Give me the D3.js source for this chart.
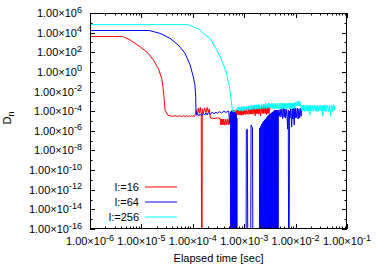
<!DOCTYPE html>
<html>
<head>
<meta charset="utf-8">
<script src="https://cdn.jsdelivr.net/npm/d3@7"></script>
<style>
body { margin: 0; background: #fff; }
text { font-family: "Liberation Sans", Arial, sans-serif; }
</style>
</head>
<body>
<div id="chart"></div>
<script>
// decades shown on the axes
const xTickExps = [-6, -5, -4, -3, -2, -1];
const yTickExps = [6, 4, 2, 0, -2, -4, -6, -8, -10, -12, -14, -16];
const legendLabels = ["l:=16", "l:=64", "l:=256"];

// [elapsed time, D_n] (0 = dropped below the axis)
const red16 = [
  [1e-6, 4096], [4.3e-6, 4096], [6.0e-6, 1780], [9.4e-6, 370], [1.36e-5, 78], [1.71e-5, 16.3],
  [2.13e-5, 2.3], [2.48e-5, 0.22], [2.6e-5, 0.046], [2.75e-5, 0.003], [2.88e-5, 1.3e-4], [3.25e-5, 4.1e-5],
  [3.9e-5, 3.0e-5], [4.5e-5, 3.4e-5], [5e-5, 2.9e-5], [5.5e-5, 3.4e-5], [6e-5, 2.9e-5], [6.5e-5, 3.4e-5],
  [7e-5, 2.9e-5], [7.5e-5, 3.4e-5], [8e-5, 2.9e-5], [8.5e-5, 3.4e-5], [9e-5, 2.9e-5], [9.5e-5, 3.4e-5],
  [1.0e-4, 2.9e-5], [1.05e-4, 3.4e-5], [1.1e-4, 3.0e-5],
  [1.16e-4, 1.3e-4], [1.22e-4, 5e-5], [1.28e-4, 2.1e-4], [1.34e-4, 6e-5], [1.40e-4, 2.4e-4], [1.46e-4, 5e-5],
  [1.50e-4, 0], [1.53e-4, 1.7e-4], [1.6e-4, 6e-5], [1.7e-4, 2.1e-4], [1.8e-4, 7e-5], [1.9e-4, 2.4e-4],
  [2.0e-4, 8e-5], [2.1e-4, 1.7e-4], [2.2e-4, 2.0e-5], [2.6e-4, 1.8e-5], [3.0e-4, 2.1e-5], [3.4e-4, 1.8e-5],
  [3.5e-4, 4e-6], [3.6e-4, 1.6e-5], [3.7e-4, 3.9e-6], [3.8e-4, 1.5e-5], [3.9e-4, 4.2e-6], [4.0e-4, 1.6e-5],
  [4.2e-4, 3.8e-6], [4.4e-4, 1.5e-5], [4.6e-4, 4e-6], [4.8e-4, 1.6e-5], [5.0e-4, 4.1e-6], [5.2e-4, 1.5e-5],
  [5.4e-4, 4e-6], [5.6e-4, 1.6e-5],
  [5.8e-4, 1.1e-4], [6.0e-4, 4.5e-5], [6.2e-4, 1.3e-4], [6.4e-4, 4.1e-5], [6.6e-4, 1.2e-4], [6.8e-4, 4.4e-5],
  [7.0e-4, 1.4e-4], [7.2e-4, 4.0e-5], [7.4e-4, 1.3e-4], [7.6e-4, 4.6e-5], [7.8e-4, 1.5e-4], [8.0e-4, 4.2e-5],
  [8.2e-4, 1.3e-4], [8.4e-4, 4.5e-5], [8.6e-4, 1.4e-4], [8.8e-4, 3.8e-5], [9.0e-4, 1.6e-4], [9.2e-4, 4.6e-5],
  [9.4e-4, 1.5e-4], [9.6e-4, 4.2e-5], [9.8e-4, 1.7e-4],
  [1.00e-3, 4.8e-5], [1.04e-3, 1.6e-4], [1.08e-3, 4.5e-5], [1.12e-3, 1.8e-4], [1.16e-3, 5.0e-5], [1.20e-3, 2.0e-4],
  [1.24e-3, 4.6e-5], [1.28e-3, 2.1e-4], [1.32e-3, 5.2e-5], [1.36e-3, 2.4e-4], [1.40e-3, 5.5e-5], [1.44e-3, 2.8e-4],
  [1.48e-3, 4.8e-5], [1.52e-3, 3.0e-4], [1.56e-3, 5.8e-5], [1.60e-3, 2.7e-4], [1.64e-3, 3.4e-5], [1.68e-3, 3.2e-4],
  [1.72e-3, 5.5e-5], [1.76e-3, 2.9e-4], [1.80e-3, 6.0e-5], [1.84e-3, 3.3e-4], [1.88e-3, 5.0e-5], [1.92e-3, 3.0e-4],
  [1.96e-3, 6.2e-5], [2.00e-3, 3.4e-4],
  [2.08e-3, 3.2e-5], [2.16e-3, 2.8e-4], [2.24e-3, 6.0e-5], [2.32e-3, 3.2e-4], [2.40e-3, 5.5e-5], [2.48e-3, 3.0e-4],
  [2.56e-3, 5.8e-5], [2.64e-3, 3.5e-4], [2.72e-3, 4.5e-5], [2.80e-3, 3.1e-4], [2.88e-3, 6.0e-5], [2.96e-3, 2.9e-4],
  [3.04e-3, 5.4e-5], [3.12e-3, 2.6e-4], [3.20e-3, 1.7e-4]
];

const blue64 = [
  [1e-6, 16384], [1.42e-5, 16384], [2.3e-5, 8.5e3], [3.6e-5, 2.65e3], [5.2e-5, 550], [7.06e-5, 78],
  [8.85e-5, 5.1], [1.02e-4, 0.33], [1.1e-4, 0.046], [1.14e-4, 0.003], [1.15e-4, 1.3e-4], [1.19e-4, 4.1e-5],
  [1.25e-4, 5.2e-5], [1.3e-4, 3.2e-5], [1.4e-4, 5.2e-5], [1.5e-4, 3.6e-5], [1.6e-4, 5.8e-5], [1.7e-4, 4.1e-5],
  [1.8e-4, 6.5e-5], [1.9e-4, 4.1e-5], [2.0e-4, 7.4e-5], [2.2e-4, 4.6e-5], [2.4e-4, 8.3e-5], [2.6e-4, 5.2e-5],
  [2.8e-4, 8.3e-5], [3.0e-4, 5.8e-5], [3.3e-4, 9.2e-5], [3.6e-4, 6.5e-5], [4.0e-4, 1.0e-4], [4.4e-4, 7.4e-5],
  [4.8e-4, 1.0e-4],
  [5.0e-4, 1.0e-4], [5.2e-4, 6e-6], [5.4e-4, 8e-5], [5.5e-4, 0], [5.6e-4, 1.1e-4], [5.7e-4, 0], [5.8e-4, 1.0e-4],
  [5.9e-4, 0], [6.0e-4, 9e-5], [6.1e-4, 0], [6.2e-4, 1.0e-4], [6.3e-4, 0], [6.4e-4, 8e-5], [6.5e-4, 0],
  [6.6e-4, 7e-5], [6.7e-4, 0], [6.8e-4, 6e-5], [6.9e-4, 0], [7.0e-4, 5e-5], [7.1e-4, 0], [7.2e-4, 2e-5],
  [7.3e-4, 0], [1.08e-3, 0], [1.1e-3, 1.2e-6], [1.15e-3, 1.5e-6], [1.2e-3, 0], [1.32e-3, 0], [1.36e-3, 3.9e-6],
  [1.45e-3, 2e-6], [1.5e-3, 0], [1.95e-3, 0],
  [2.00e-3, 1.9e-6], [2.05e-3, 0], [2.10e-3, 3e-6], [2.15e-3, 0], [2.20e-3, 4.9e-6], [2.25e-3, 0],
  [2.30e-3, 7e-6], [2.35e-3, 0], [2.40e-3, 1e-5], [2.45e-3, 0], [2.50e-3, 1.3e-5], [2.55e-3, 0],
  [2.60e-3, 1.6e-5], [2.65e-3, 0], [2.70e-3, 2.1e-5], [2.75e-3, 0], [2.80e-3, 2.6e-5], [2.85e-3, 0],
  [2.90e-3, 3.3e-5], [2.95e-3, 0], [3.00e-3, 4.1e-5], [3.05e-3, 0], [3.10e-3, 4.6e-5], [3.15e-3, 0],
  [3.20e-3, 5.2e-5], [3.25e-3, 0], [3.30e-3, 5.8e-5], [3.35e-3, 0], [3.40e-3, 6.5e-5], [3.45e-3, 0],
  [3.50e-3, 7.4e-5], [3.55e-3, 0], [3.60e-3, 8.3e-5], [3.65e-3, 0], [3.70e-3, 9e-5], [3.75e-3, 0],
  [3.80e-3, 1.0e-4], [3.85e-3, 0], [3.90e-3, 1.2e-4], [3.95e-3, 0], [4.00e-3, 1.3e-4], [4.05e-3, 0],
  [4.10e-3, 1.1e-4], [4.15e-3, 0], [4.20e-3, 1.2e-4], [4.25e-3, 0], [4.30e-3, 1.3e-4], [4.35e-3, 0],
  [4.40e-3, 1.2e-4], [4.45e-3, 0], [4.50e-3, 1.3e-4], [4.55e-3, 0], [4.60e-3, 1.3e-4],
  [4.8e-3, 3e-5], [5.0e-3, 1.6e-4], [5.2e-3, 2.6e-5], [5.4e-3, 2.1e-4], [5.6e-3, 1.8e-5], [5.8e-3, 1.9e-4],
  [6.0e-3, 2.4e-5], [6.2e-3, 1.7e-4], [6.4e-3, 2e-5], [6.6e-3, 1.5e-4], [6.8e-3, 2.8e-5], [7.0e-3, 1.5e-6],
  [7.2e-3, 1.3e-4], [7.4e-3, 0], [7.6e-3, 1.0e-4], [7.8e-3, 2e-5], [8.0e-3, 1.7e-4], [8.2e-3, 3e-5],
  [8.4e-3, 2.5e-6], [8.6e-3, 1.7e-4], [8.8e-3, 1.6e-5], [9.0e-3, 2.1e-4], [9.2e-3, 2.5e-5], [9.4e-3, 4e-6],
  [9.6e-3, 2.1e-4], [9.8e-3, 2e-5], [1.00e-2, 1.9e-4], [1.04e-2, 2.2e-5], [1.08e-2, 2.1e-4], [1.12e-2, 1.6e-5],
  [1.16e-2, 1.7e-4], [1.20e-2, 2e-5], [1.24e-2, 2.1e-4], [1.28e-2, 3e-5], [1.30e-2, 1.7e-4]
];

const cyan256 = [
  [1e-6, 65536], [8.1e-5, 65536], [1.19e-4, 2.8e4], [1.38e-4, 1.85e4], [1.6e-4, 8.5e3], [2.16e-4, 2.65e3],
  [2.92e-4, 170], [3.66e-4, 16], [4.43e-4, 1.05], [4.9e-4, 0.1], [5.3e-4, 0.0144], [5.55e-4, 1.4e-3],
  [5.88e-4, 1.3e-4], [6.1e-4, 8.3e-5], [7.15e-4, 1.3e-4],
  [7.50e-4, 2.6e-4], [7.75e-4, 1.1e-4], [8.00e-4, 2.9e-4], [8.25e-4, 1.0e-4], [8.50e-4, 2.5e-4], [8.75e-4, 1.2e-4],
  [9.00e-4, 3.0e-4], [9.25e-4, 1.0e-4], [9.50e-4, 2.7e-4], [9.75e-4, 1.1e-4], [1.00e-3, 3.1e-4],
  [1.05e-3, 1.2e-4], [1.10e-3, 3.0e-4], [1.15e-3, 1.1e-4], [1.20e-3, 3.3e-4], [1.25e-3, 1.3e-4], [1.30e-3, 3.6e-4],
  [1.35e-3, 1.4e-4], [1.40e-3, 4.0e-4], [1.45e-3, 1.5e-4], [1.50e-3, 4.4e-4], [1.55e-3, 1.6e-4], [1.60e-3, 4.1e-4],
  [1.65e-3, 1.5e-4], [1.70e-3, 4.6e-4], [1.75e-3, 1.7e-4], [1.80e-3, 4.3e-4], [1.85e-3, 1.6e-4], [1.90e-3, 4.8e-4],
  [1.95e-3, 1.8e-4], [2.00e-3, 4.5e-4],
  [2.1e-3, 1.7e-4], [2.2e-3, 5.2e-4], [2.3e-3, 1.9e-4], [2.4e-3, 5.6e-4], [2.5e-3, 2.0e-4], [2.6e-3, 6.2e-4],
  [2.7e-3, 1.8e-4], [2.8e-3, 5.4e-4], [2.9e-3, 2.1e-4], [3.0e-3, 6.5e-4], [3.1e-3, 1.9e-4], [3.2e-3, 5.8e-4],
  [3.3e-3, 2.2e-4], [3.4e-3, 6.1e-4], [3.5e-3, 1.8e-4], [3.6e-3, 6.4e-4], [3.7e-3, 2.0e-4], [3.8e-3, 5.7e-4],
  [3.9e-3, 1.9e-4], [4.0e-3, 6.3e-4],
  [4.2e-3, 1.8e-4], [4.4e-3, 6.8e-4], [4.6e-3, 1.7e-4], [4.8e-3, 6.2e-4], [5.0e-3, 1.9e-4], [5.2e-3, 7.2e-4],
  [5.4e-3, 1.6e-4], [5.6e-3, 6.5e-4], [5.8e-3, 2.0e-4], [6.0e-3, 7.0e-4], [6.2e-3, 1.7e-4], [6.4e-3, 6.0e-4],
  [6.6e-3, 1.9e-4], [6.8e-3, 6.8e-4], [7.0e-3, 1.8e-4], [7.2e-3, 6.4e-4], [7.4e-3, 2.1e-4], [7.6e-3, 7.0e-4],
  [7.8e-3, 1.7e-4], [8.0e-3, 6.6e-4], [8.2e-3, 2.0e-4], [8.4e-3, 6.2e-4], [8.6e-3, 1.8e-4], [8.8e-3, 6.9e-4],
  [9.0e-3, 2.2e-4], [9.2e-3, 6.4e-4], [9.4e-3, 1.9e-4], [9.6e-3, 7.4e-4], [9.8e-3, 2.4e-4], [1.00e-2, 8.6e-4],
  [1.04e-2, 3.4e-4], [1.08e-2, 1.0e-3], [1.12e-2, 3.6e-4], [1.16e-2, 1.1e-3], [1.20e-2, 3.3e-4], [1.24e-2, 9.0e-4],
  [1.30e-2, 1.2e-4], [1.35e-2, 4.0e-4], [1.40e-2, 1.0e-4], [1.45e-2, 4.3e-4], [1.50e-2, 9e-5], [1.55e-2, 3.6e-4],
  [1.60e-2, 1.1e-4], [1.65e-2, 4.0e-4], [1.70e-2, 9.5e-5], [1.75e-2, 3.8e-4], [1.80e-2, 1.0e-4], [1.85e-2, 4.2e-4],
  [1.90e-2, 4.1e-5], [1.95e-2, 3.7e-4], [2.00e-2, 1.0e-4],
  [2.1e-2, 3.9e-4], [2.2e-2, 9.5e-5], [2.3e-2, 4.3e-4], [2.4e-2, 1.1e-4], [2.5e-2, 3.6e-4], [2.6e-2, 8.5e-5],
  [2.7e-2, 4.0e-4], [2.8e-2, 1.0e-4], [2.9e-2, 3.8e-4], [3.0e-2, 1.1e-4], [3.1e-2, 4.1e-4], [3.2e-2, 9e-5],
  [3.3e-2, 3.7e-4], [3.4e-2, 3.5e-5], [3.5e-2, 4.0e-4], [3.6e-2, 1.0e-4], [3.7e-2, 3.8e-4], [3.8e-2, 9.5e-5],
  [3.9e-2, 4.4e-4], [4.0e-2, 1.0e-4],
  [4.2e-2, 3.7e-4], [4.4e-2, 9e-5], [4.6e-2, 4.2e-4], [4.8e-2, 3.2e-5], [5.0e-2, 3.9e-4], [5.2e-2, 9.5e-5],
  [5.4e-2, 4.6e-4], [5.6e-2, 1.1e-4], [5.8e-2, 3.8e-4]
];

const seriesList = [red16, blue64, cyan256];
const colors = ["#ff0000", "#0000ff", "#00ffff"];

const width = 382, height = 266;
const plotL = 90, plotR = 347, plotT = 13, plotB = 229;

const svg = d3.select("#chart").append("svg")
  .attr("width", width)
  .attr("height", height);

const xscale = d3.scaleLog().domain([1e-6, 1e-1]).range([plotL, plotR]);
const yscale = d3.scaleLog().domain([1e-16, 1e6]).range([plotB, plotT]);

svg.append("clipPath").attr("id", "plotclip")
  .append("rect")
  .attr("x", plotL).attr("y", plotT)
  .attr("width", plotR - plotL).attr("height", plotB - plotT);

// zero values sit far below the axis
const line = d3.line()
  .x(d => xscale(d[0]))
  .y(d => yscale(Math.max(d[1], 1e-30)));

const plot = svg.append("g").attr("clip-path", "url(#plotclip)");
seriesList.forEach((s, i) => {
  plot.append("path")
    .attr("d", line(s))
    .attr("fill", "none")
    .attr("stroke", colors[i])
    .attr("stroke-width", 1);
});

// ticks, inward on all four sides
const ticks = svg.append("g").attr("stroke", "#000").attr("stroke-width", 1);
xTickExps.forEach(e => {
  const base = Math.pow(10, e);
  const px = Math.round(xscale(base)) + 0.5;
  ticks.append("line").attr("x1", px).attr("x2", px).attr("y1", plotB).attr("y2", plotB - 5);
  ticks.append("line").attr("x1", px).attr("x2", px).attr("y1", plotT).attr("y2", plotT + 5);
  if (e < -1) {
    for (let k = 2; k <= 9; k++) {
      const mx = Math.round(xscale(k * base)) + 0.5;
      ticks.append("line").attr("x1", mx).attr("x2", mx).attr("y1", plotB).attr("y2", plotB - 2.5);
      ticks.append("line").attr("x1", mx).attr("x2", mx).attr("y1", plotT).attr("y2", plotT + 2.5);
    }
  }
});
for (let e = -16; e <= 6; e++) {
  const py = Math.round(yscale(Math.pow(10, e))) + 0.5;
  const len = (e % 2 === 0) ? 5 : 2.5;
  ticks.append("line").attr("x1", plotL).attr("x2", plotL + len).attr("y1", py).attr("y2", py);
  ticks.append("line").attr("x1", plotR).attr("x2", plotR - len).attr("y1", py).attr("y2", py);
}

function sciLabel(t, e) {
  t.append("tspan").text("1.00×10");
  t.append("tspan").attr("dy", -4.5).attr("font-size", 9).text(e);
}

yTickExps.forEach(e => {
  const t = svg.append("text")
    .attr("x", 82)
    .attr("y", yscale(Math.pow(10, e)) + 4)
    .attr("text-anchor", "end")
    .attr("font-size", 11)
    .attr("fill", "#000");
  sciLabel(t, e);
});

xTickExps.forEach(e => {
  const t = svg.append("text")
    .attr("x", xscale(Math.pow(10, e)))
    .attr("y", 245)
    .attr("text-anchor", "middle")
    .attr("font-size", 11)
    .attr("fill", "#000");
  sciLabel(t, e);
});

svg.append("text")
  .attr("x", (plotL + plotR) / 2)
  .attr("y", 262)
  .attr("text-anchor", "middle")
  .attr("font-size", 11)
  .text("Elapsed time [sec]");

const ylab = svg.append("text")
  .attr("transform", "translate(10.5,118) rotate(-90)")
  .attr("text-anchor", "middle")
  .attr("font-size", 11);
ylab.append("tspan").text("D");
ylab.append("tspan").attr("dy", 3).attr("font-size", 9).text("n");

// legend
legendLabels.forEach((lab, i) => {
  const ly = 187 + i * 15;
  svg.append("text")
    .attr("x", 139)
    .attr("y", ly + 4)
    .attr("text-anchor", "end")
    .attr("font-size", 11)
    .text(lab);
  svg.append("line")
    .attr("x1", 145).attr("x2", 177)
    .attr("y1", ly).attr("y2", ly)
    .attr("stroke", colors[i])
    .attr("stroke-width", 1);
});

svg.append("rect")
  .attr("x", plotL + 0.5).attr("y", plotT + 0.5)
  .attr("width", plotR - plotL - 1).attr("height", plotB - plotT - 1)
  .attr("fill", "none")
  .attr("stroke", "#000")
  .attr("stroke-width", 1);
</script>
</body>
</html>
